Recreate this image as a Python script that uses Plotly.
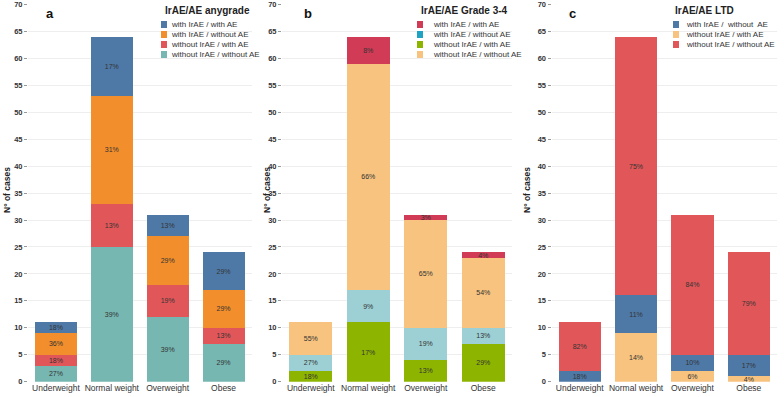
import plotly.graph_objects as go

W, H = 784, 397

categories = ["Underweight", "Normal weight", "Overweight", "Obese"]
y_ticks = list(range(0, 75, 5))

# Panel a: IrAE/AE anygrade
a_with_with = [2, 11, 4, 7]
a_with_without = [4, 20, 9, 7]
a_without_with = [2, 8, 6, 3]
a_without_without = [3, 25, 12, 7]
a_with_with_pct = ["18%", "17%", "13%", "29%"]
a_with_without_pct = ["36%", "31%", "29%", "29%"]
a_without_with_pct = ["18%", "13%", "19%", "13%"]
a_without_without_pct = ["27%", "39%", "39%", "29%"]

# Panel b: IrAE/AE Grade 3-4
b_with_with = [0, 5, 1, 1]
b_with_without = [3, 6, 6, 3]
b_without_with = [2, 11, 4, 7]
b_without_without = [6, 42, 20, 13]
b_with_with_pct = ["", "8%", "3%", "4%"]
b_with_without_pct = ["27%", "9%", "19%", "13%"]
b_without_with_pct = ["18%", "17%", "13%", "29%"]
b_without_without_pct = ["55%", "66%", "65%", "54%"]

# Panel c: IrAE/AE LTD
c_with_without = [2, 7, 3, 4]
c_without_with = [0, 9, 2, 1]
c_without_without = [9, 48, 26, 19]
c_with_without_pct = ["18%", "11%", "10%", "17%"]
c_without_with_pct = ["", "14%", "6%", "4%"]
c_without_without_pct = ["82%", "75%", "84%", "79%"]

BLUE, ORANGE, RED, TEAL = "#4e79a7", "#f28e2b", "#e15759", "#76b7b2"
CRIMSON, CYAN, GREEN, PEACH, LIGHTBLUE = "#d13b55", "#1ea3c3", "#8db500", "#f7c37f", "#9dd0d4"


def px(x):
    return x / W


def py(y):
    return 1 - y / H


fig = go.Figure()


def add_bar(vals, labels, color, xa, ya, name):
    fig.add_trace(go.Bar(
        x=categories, y=vals, text=labels, name=name,
        marker=dict(color=color, line=dict(width=0)),
        textposition="inside", insidetextanchor="middle", textangle=0,
        textfont=dict(size=7, color="#333", family="Arial"),
        xaxis=xa, yaxis=ya, showlegend=False, hoverinfo="x+y+name",
    ))


# stacks bottom -> top
add_bar(a_without_without, a_without_without_pct, TEAL, "x", "y", "without IrAE / without AE")
add_bar(a_without_with, a_without_with_pct, RED, "x", "y", "without IrAE / with AE")
add_bar(a_with_without, a_with_without_pct, ORANGE, "x", "y", "with IrAE / without AE")
add_bar(a_with_with, a_with_with_pct, BLUE, "x", "y", "with IrAE / with AE")

add_bar(b_without_with, b_without_with_pct, GREEN, "x2", "y2", "without IrAE / with AE")
add_bar(b_with_without, b_with_without_pct, LIGHTBLUE, "x2", "y2", "with IrAE / without AE")
add_bar(b_without_without, b_without_without_pct, PEACH, "x2", "y2", "without IrAE / without AE")
add_bar(b_with_with, b_with_with_pct, CRIMSON, "x2", "y2", "with IrAE / with AE")

add_bar(c_without_with, c_without_with_pct, PEACH, "x3", "y3", "without IrAE / with AE")
add_bar(c_with_without, c_with_without_pct, BLUE, "x3", "y3", "with IrAE /  without AE")
add_bar(c_without_without, c_without_without_pct, RED, "x3", "y3", "without IrAE / without AE")

ydom = [py(381.7), py(4.5)]
xdoms = [[px(28), px(251.5)], [px(282), px(512)], [px(551.5), px(777)]]

common_x = dict(showgrid=False, zeroline=False, showline=False, ticks="",
                tickfont=dict(size=8.5, color="#333", family="Arial"),
                tickangle=0, automargin=False, range=[-0.5, 3.5])
common_y = dict(range=[0, 70], tickvals=y_ticks, showgrid=True, gridcolor="#eeeeee",
                gridwidth=1, zeroline=False, showline=False, ticks="outside",
                ticklen=3, tickcolor="#999", tickwidth=1, automargin=False,
                ticklabeloverflow="allow",
                tickfont=dict(size=7.5, color="#333", family="Arial", weight="bold"))

layout = dict(
    width=W, height=H, margin=dict(l=0, r=0, t=0, b=0), autosize=False,
    paper_bgcolor="white", plot_bgcolor="white", barmode="stack", bargap=0.25,
    uniformtext=dict(minsize=7, mode="show"), showlegend=False,
)
for i, suf in enumerate(["", "2", "3"]):
    layout["xaxis" + suf] = dict(common_x, domain=xdoms[i], anchor="y" + suf)
    layout["yaxis" + suf] = dict(common_y, domain=ydom, anchor="x" + suf)
fig.update_layout(**layout)

annotations = []
shapes = []

# y-axis titles
for xp in [7, 267, 527]:
    annotations.append(dict(x=px(xp), y=py(190), xref="paper", yref="paper",
                            text="N° of cases", textangle=-90, showarrow=False,
                            font=dict(size=8.5, color="#222", family="Arial", weight="bold"),
                            xanchor="center", yanchor="middle"))

# panel letters
for letter, xp in [("a", 50), ("b", 308), ("c", 572)]:
    annotations.append(dict(x=px(xp), y=py(13), xref="paper", yref="paper",
                            text=letter, showarrow=False,
                            font=dict(size=13, color="#111", family="Arial", weight="bold"),
                            xanchor="center", yanchor="middle"))

legends = [
    ("IrAE/AE anygrade", 163, 11, 161, 169,
     [("with IrAE / with AE", BLUE), ("with IrAE / without AE", ORANGE),
      ("without IrAE / with AE", RED), ("without IrAE / without AE", TEAL)]),
    ("IrAE/AE Grade 3-4", 419, 11, 417, 431,
     [("with IrAE / with AE", CRIMSON), ("with IrAE / without AE", CYAN),
      ("without IrAE / with AE", GREEN), ("without IrAE / without AE", PEACH)]),
    ("IrAE/AE LTD", 673, 10, 673, 684,
     [("with IrAE /  without  AE", BLUE), ("without IrAE / with AE", PEACH),
      ("without IrAE / without AE", RED)]),
]
for title, tx, ty, sx, lx, items in legends:
    annotations.append(dict(x=px(tx), y=py(ty), xref="paper", yref="paper",
                            text=title, showarrow=False,
                            font=dict(size=10, color="#222", family="Arial", weight="bold"),
                            xanchor="left", yanchor="middle"))
    for k, (lab, col) in enumerate(items):
        yc = 24.5 + 10 * k
        shapes.append(dict(type="rect", xref="paper", yref="paper",
                           x0=px(sx), x1=px(sx + 6), y0=py(yc - 3.5), y1=py(yc + 3.5),
                           fillcolor=col, line=dict(width=0)))
        annotations.append(dict(x=px(lx), y=py(yc), xref="paper", yref="paper",
                                text=lab, showarrow=False,
                                font=dict(size=8, color="#333", family="Arial"),
                                xanchor="left", yanchor="middle"))

fig.update_layout(annotations=annotations, shapes=shapes)
fig.write_html("out.html", config={"displayModeBar": False},
               post_script="document.body.style.margin='0';document.body.style.padding='0';document.body.style.overflow='hidden';")
